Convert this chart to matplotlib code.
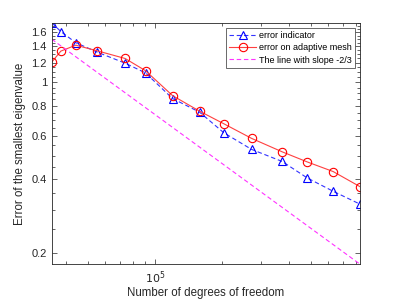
import numpy as np
import matplotlib
matplotlib.use("Agg")
import matplotlib.pyplot as plt
from matplotlib.ticker import FixedLocator, NullFormatter, FixedFormatter

plt.rcParams['font.family'] = ['Liberation Sans', 'DejaVu Sans']

# degrees of freedom
ndof = [34500, 37900, 44200, 55300, 73600, 90850, 120100, 158700,
        203800, 271500, 372300, 482000, 630400, 833000]
# error indicator
err_ind = [1.75, 1.61, 1.45, 1.325, 1.195, 1.09, 0.856, 0.753,
           0.620, 0.530, 0.473, 0.405, 0.357, 0.316]
# error on adaptive mesh
err_mesh = [1.207, 1.339, 1.416, 1.342, 1.249, 1.113, 0.880, 0.760,
            0.675, 0.588, 0.518, 0.471, 0.430, 0.3725]
# reference slope line
slope = -2.0 / 3.0
slope_start = 1.498

ytick_vals = [0.2, 0.4, 0.6, 0.8, 1.0, 1.2, 1.4, 1.6]
ytick_labels = ['0.2', '0.4', '0.6', '0.8', '1', '1.2', '1.4', '1.6']

ref_x = np.array([ndof[0], ndof[-1]], dtype=float)
ref_y = slope_start * (ref_x / ref_x[0]) ** slope

fig = plt.figure(figsize=(3.98, 2.99), dpi=100)
ax = fig.add_axes([0.13, 0.116, 0.775, 0.808])

ax.loglog(ndof, err_ind, '--^', color=(0.2, 0.2, 1.0), lw=0.8, ms=6, mfc='none',
          mec='b', mew=0.8, dashes=(4, 2.5), label='error indicator')
ax.loglog(ndof, err_mesh, '-o', color=(1.0, 0.25, 0.25), lw=0.8, ms=6, mfc='none',
          mec='r', mew=0.8, label='error on adaptive mesh')
ax.loglog(ref_x, ref_y, '--', color=(1.0, 0.2, 1.0), lw=0.8, dashes=(4, 2.5),
          label='The line with slope -2/3')

ax.set_xlim(ndof[0], ndof[-1])
ax.set_ylim(ref_y[-1], 1.75)

ax.xaxis.set_major_locator(FixedLocator([1e5]))
ax.xaxis.set_major_formatter(FixedFormatter(['$10^{5}$']))
ax.xaxis.set_minor_locator(FixedLocator(
    [k * 1e4 for k in range(4, 10)] + [k * 1e5 for k in range(2, 9)]))
ax.xaxis.set_minor_formatter(NullFormatter())

ax.yaxis.set_major_locator(FixedLocator(ytick_vals))
ax.yaxis.set_major_formatter(FixedFormatter(ytick_labels))
ax.yaxis.set_minor_locator(FixedLocator(np.round(np.arange(0.2, 1.76, 0.05), 2)))
ax.yaxis.set_minor_formatter(NullFormatter())

grey = (0.15, 0.15, 0.15)
for s in ax.spines.values():
    s.set_color(grey)
    s.set_linewidth(0.6)
ax.tick_params(which='both', direction='in', top=True, right=True,
               colors=grey, labelsize=8, width=0.5)
ax.tick_params(which='major', length=3.5)
ax.tick_params(which='minor', length=2)
ax.tick_params(axis='x', pad=4)

ax.set_xlabel('Number of degrees of freedom', fontsize=8.3, color=grey, labelpad=0.5)
ax.set_ylabel('Error of the smallest eigenvalue', fontsize=8.3, color=grey, labelpad=4)

leg = ax.legend(loc='upper right', fontsize=6.5, frameon=True, fancybox=False,
                edgecolor=grey, handlelength=3.0, handletextpad=0.3,
                borderpad=0.35, labelspacing=0.35, borderaxespad=0.6)
leg.get_frame().set_linewidth(0.6)

fig.savefig('out.png', dpi=100)
